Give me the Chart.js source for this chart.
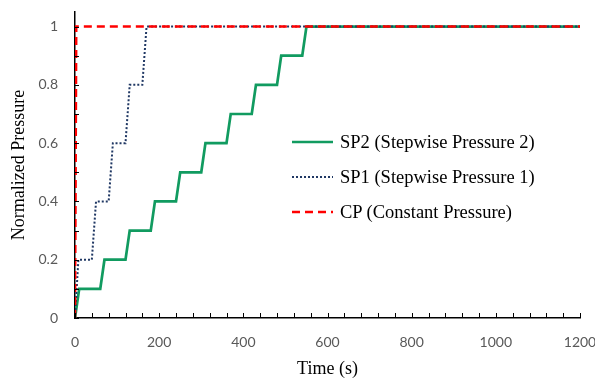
<!DOCTYPE html>
<html>
<head>
<meta charset="utf-8">
<script src="https://cdn.jsdelivr.net/npm/chart.js@4.4.1/dist/chart.umd.min.js"></script>
<style>
  html, body { margin: 0; padding: 0; background: #fff; }
  #wrap { position: relative; width: 595px; height: 380px; }
  .leg { position: absolute; left: 340px; height: 22px; line-height: 22px; font-family: "Liberation Serif"; font-size: 18.5px; color: #000; white-space: nowrap; }
</style>
</head>
<body>
<div id="wrap">
  <canvas id="grafico"></canvas>
  <div id="legenda"></div>
</div>
<script>
// Dados (tempo em s, pressão normalizada)
var sp2Tempo = [0, 10, 60, 70, 120, 130, 180, 190, 240, 250, 300, 310, 360, 370, 420, 430, 480, 490, 540, 550, 1200];
var sp2Valor = [0, 0.1, 0.1, 0.2, 0.2, 0.3, 0.3, 0.4, 0.4, 0.5, 0.5, 0.6, 0.6, 0.7, 0.7, 0.8, 0.8, 0.9, 0.9, 1, 1];

var sp1Tempo = [0, 8, 40, 50, 80, 90, 120, 130, 160, 170, 1200];
var sp1Valor = [0, 0.2, 0.2, 0.4, 0.4, 0.6, 0.6, 0.8, 0.8, 1, 1];

var cpTempo = [0, 3, 1200];
var cpValor = [0, 1, 1];

var rotulos = ['SP2 (Stepwise Pressure 2)', 'SP1 (Stepwise Pressure 1)', 'CP (Constant Pressure)'];
var linhasLegenda = [142, 177, 212]; // centro de cada linha da legenda

function pontos(tempos, valores) {
    return tempos.map(function (t, i) { return { x: t, y: valores[i] }; });
}

// tracinhos dos eixos para dentro, como no Excel
var tracinhos = {
    id: 'tracinhos',
    afterDraw: function (chart) {
        var ctx = chart.ctx, x = chart.scales.x, y = chart.scales.y;
        ctx.save();
        ctx.strokeStyle = '#000';
        ctx.lineWidth = 1;
        x.ticks.forEach(function (t) {
            var px = Math.round(x.getPixelForValue(t.value)) + 0.5;
            ctx.beginPath();
            ctx.moveTo(px, y.bottom);
            ctx.lineTo(px, y.bottom - 5);
            ctx.stroke();
        });
        y.ticks.forEach(function (t) {
            var py = Math.round(y.getPixelForValue(t.value)) + 0.5;
            ctx.beginPath();
            ctx.moveTo(x.left - 1, py);
            ctx.lineTo(x.left + 4, py);
            ctx.stroke();
        });
        ctx.restore();
    }
};

// amostras de linha da legenda (o texto vai em html)
var legendaInterna = {
    id: 'legendaInterna',
    afterDraw: function (chart) {
        var ctx = chart.ctx;
        ctx.save();
        chart.data.datasets.forEach(function (ds, i) {
            ctx.beginPath();
            ctx.strokeStyle = ds.borderColor;
            ctx.lineWidth = ds.borderWidth;
            ctx.setLineDash(ds.borderDash || []);
            ctx.moveTo(292, linhasLegenda[i]);
            ctx.lineTo(333, linhasLegenda[i]);
            ctx.stroke();
        });
        ctx.restore();
    }
};

var legenda = document.getElementById('legenda');
rotulos.forEach(function (r, i) {
    var d = document.createElement('div');
    d.className = 'leg';
    d.style.top = (linhasLegenda[i] - 11) + 'px';
    d.textContent = r;
    legenda.appendChild(d);
});

new Chart(document.getElementById('grafico').getContext('2d'), {
    type: 'line',
    data: {
        datasets: [
            {
                label: rotulos[0],
                data: pontos(sp2Tempo, sp2Valor),
                borderColor: '#119B60',
                borderWidth: 2.7,
                pointRadius: 0,
                fill: false,
                order: 2
            },
            {
                label: rotulos[1],
                data: pontos(sp1Tempo, sp1Valor),
                borderColor: '#203864',
                borderWidth: 2,
                borderDash: [2, 2],
                pointRadius: 0,
                fill: false,
                order: 1
            },
            {
                label: rotulos[2],
                data: pontos(cpTempo, cpValor),
                borderColor: '#FF0000',
                borderWidth: 2.5,
                borderDash: [8, 5],
                pointRadius: 0,
                fill: false,
                order: 0
            }
        ]
    },
    options: {
        responsive: true,
        maintainAspectRatio: false,
        animation: false,
        layout: { padding: { top: 12, right: 15, left: 0, bottom: 0 } },
        plugins: {
            legend: { display: false },
            tooltip: { enabled: false }
        },
        scales: {
            x: {
                type: 'linear',
                min: 0,
                max: 1200,
                grid: { display: false },
                border: { color: '#000', width: 1.5 },
                ticks: {
                    stepSize: 40,
                    autoSkip: false,
                    maxRotation: 0,
                    padding: 8,
                    color: '#595959',
                    font: { family: 'Lato', size: 14 },
                    callback: function (v) { return v % 200 === 0 ? String(v) : ''; }
                },
                title: {
                    display: true,
                    text: 'Time (s)',
                    color: '#000',
                    font: { family: '"Liberation Serif"', size: 18 },
                    padding: { top: 2, bottom: 0 }
                },
                afterFit: function (s) { s.height = 62; s.paddingLeft = 0; s.paddingRight = 0; }
            },
            y: {
                min: 0,
                max: 1.05,
                grid: { display: false },
                border: { color: '#000', width: 1.5 },
                ticks: {
                    stepSize: 0.1,
                    includeBounds: false,
                    autoSkip: false,
                    padding: 9,
                    color: '#595959',
                    font: { family: 'Lato', size: 14 },
                    callback: function (v) {
                        var k = Math.round(v * 10);
                        return k % 2 === 0 ? String(k / 10) : '';
                    }
                },
                title: {
                    display: true,
                    text: 'Normalized Pressure',
                    color: '#000',
                    font: { family: '"Liberation Serif"', size: 18 },
                    padding: { top: 8, bottom: 0 }
                },
                afterFit: function (s) { s.width = 75; s.paddingTop = 0; s.paddingBottom = 0; }
            }
        }
    },
    plugins: [tracinhos, legendaInterna]
});
</script>
</body>
</html>
